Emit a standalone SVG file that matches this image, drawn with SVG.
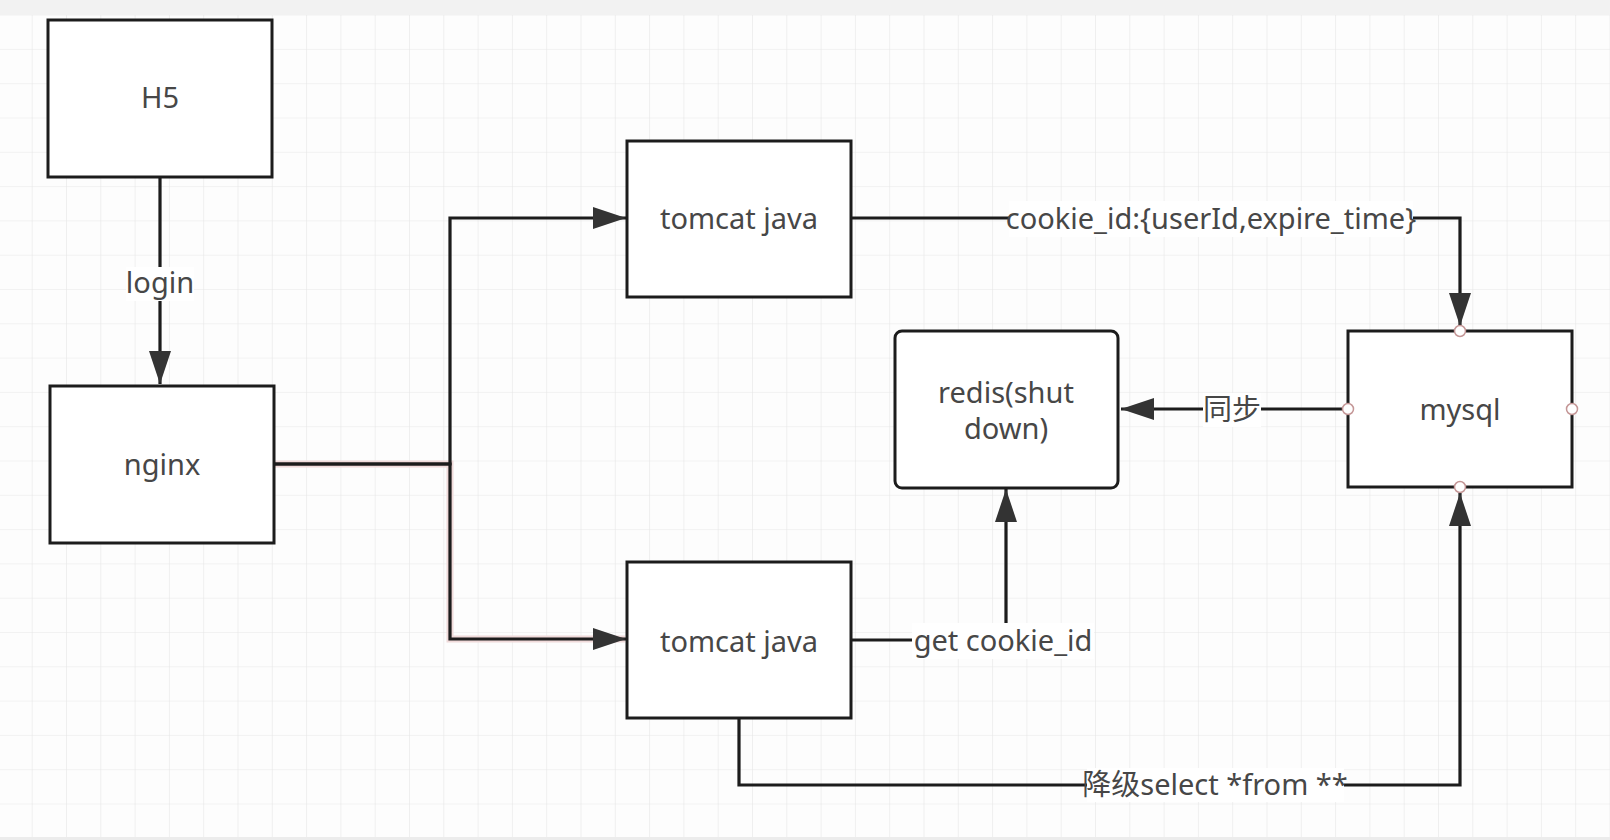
<svg xmlns="http://www.w3.org/2000/svg" width="1610" height="840" viewBox="0 0 1610 840">
<defs>
<pattern id="grid" width="34.3" height="34.3" patternUnits="userSpaceOnUse" x="31.7" y="14.6">
<path d="M0,0 H34.3 M0,0 V34.3" fill="none" stroke="#e7e7e7" stroke-width="1.2"/>
</pattern>
<marker id="arr" markerUnits="userSpaceOnUse" markerWidth="36" markerHeight="26" refX="33" refY="11" orient="auto">
<path d="M0,0 L33,11 L0,22 Z" fill="#333"/>
</marker>
<style>
.box{fill:#fff;stroke:#1c1c1c;stroke-width:3}
.txt{font-family:"Noto Sans","Noto Sans CJK SC",sans-serif;font-size:29px;fill:#474747;text-anchor:middle}
.ln{fill:none;stroke:#1c1c1c;stroke-width:3.2}
.lbg{fill:#fff}
.pt{fill:#fff;stroke:#c49696;stroke-width:1.5}
</style>
</defs>
<rect width="1610" height="840" fill="#fdfdfd"/>
<rect x="0" y="15" width="1610" height="822" fill="url(#grid)"/>
<rect x="0" y="0" width="1610" height="15" fill="#f2f2f2"/>
<rect x="0" y="837" width="1610" height="3" fill="#ececec"/>

<g id="connectors">
<path d="M274,464 L450,464 L450,639 L625,639" fill="none" stroke="#f0dada" stroke-width="7"/>
<path class="ln" d="M160,177 L160,384" marker-end="url(#arr)"/>
<path class="ln" d="M274,464 L450,464 L450,218 L626,218" marker-end="url(#arr)"/>
<path class="ln" d="M274,464 L450,464 L450,639 L626,639" marker-end="url(#arr)"/>
<path class="ln" d="M851,218 L1460,218 L1460,326" marker-end="url(#arr)"/>
<path class="ln" d="M1348,409 L1121,409" marker-end="url(#arr)"/>
<path class="ln" d="M851,640 L1006,640 L1006,489" marker-end="url(#arr)"/>
<path class="ln" d="M739,718 L739,785 L1460,785 L1460,493" marker-end="url(#arr)"/>
<rect class="lbg" x="126" y="267" width="68" height="34"/>
<text class="txt" x="160" y="293">login</text>
<rect class="lbg" x="1009" y="201" width="404" height="36"/>
<text class="txt" x="1211" y="229">cookie_id:{userId,expire_time}</text>
<rect class="lbg" x="1203" y="393" width="58" height="34"/>
<text class="txt" x="1232" y="420">同步</text>
<rect class="lbg" x="912" y="623" width="182" height="36"/>
<text class="txt" x="1003" y="651">get cookie_id</text>
<rect class="lbg" x="1087" y="768" width="257" height="34"/>
<text class="txt" x="1215" y="795">降级select *from **</text>
</g>

<g id="h5">
<rect class="box" x="48" y="20" width="224" height="157"/>
<text class="txt" x="160" y="108">H5</text>
</g>
<g id="nginx">
<rect class="box" x="50" y="386" width="224" height="157"/>
<text class="txt" x="162" y="475">nginx</text>
</g>
<g id="tomcat1">
<rect class="box" x="627" y="141" width="224" height="156"/>
<text class="txt" x="739" y="229">tomcat java</text>
</g>
<g id="tomcat2">
<rect class="box" x="627" y="562" width="224" height="156"/>
<text class="txt" x="739" y="652">tomcat java</text>
</g>
<g id="redis">
<rect class="box" x="895" y="331" width="223" height="157" rx="7"/>
<text class="txt" x="1006" y="403">redis(shut</text>
<text class="txt" x="1006" y="439">down)</text>
</g>
<g id="mysql">
<rect class="box" x="1348" y="331" width="224" height="156"/>
<text class="txt" x="1460" y="420">mysql</text>
<circle class="pt" cx="1460" cy="331" r="5.5"/>
<circle class="pt" cx="1348" cy="409" r="5.5"/>
<circle class="pt" cx="1572" cy="409" r="5.5"/>
<circle class="pt" cx="1460" cy="487" r="5.5"/>
</g>
</svg>
